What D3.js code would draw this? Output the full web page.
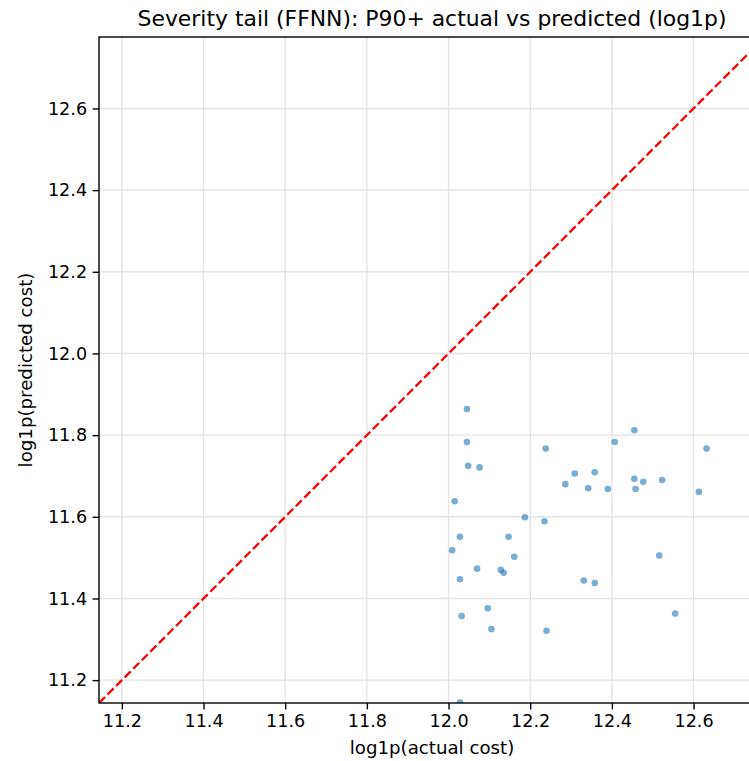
<!DOCTYPE html>
<html>
<head>
<meta charset="utf-8">
<script src="https://cdn.jsdelivr.net/npm/d3@7"></script>
<style>
  body { margin: 0; background: #fff; overflow: hidden; }
  svg { display: block; font-family: "DejaVu Sans", sans-serif; }
</style>
</head>
<body>
<svg id="chart"></svg>
<script>
// log1p(actual cost) for the P90+ claims
const actualLog = [
  12.045, 12.045, 12.048, 12.076, 12.015, 12.238, 12.455, 12.407, 12.632, 12.358,
  12.309, 12.286, 12.342, 12.390, 12.455, 12.477, 12.523, 12.458, 12.613, 12.187,
  12.235, 12.028, 12.147, 12.009, 12.161, 12.070, 12.128, 12.135, 12.028, 12.516,
  12.331, 12.358, 12.096, 12.032, 12.105, 12.240, 12.555, 12.028
]
// log1p(predicted cost) from the FFNN
const predictedLog = [
  11.864, 11.783, 11.725, 11.721, 11.638, 11.767, 11.812, 11.783, 11.767, 11.709,
  11.706, 11.680, 11.670, 11.668, 11.693, 11.686, 11.690, 11.668, 11.661, 11.599,
  11.589, 11.551, 11.551, 11.518, 11.502, 11.473, 11.470, 11.463, 11.447, 11.505,
  11.444, 11.438, 11.376, 11.357, 11.325, 11.321, 11.363, 11.145
]
const axisLimits = [11.144, 12.775]
const tickValues = [11.2, 11.4, 11.6, 11.8, 12.0, 12.2, 12.4, 12.6]

const svg = d3.select('#chart')
  .attr('width', 749)
  .attr('height', 761)

const margin = { top: 37, left: 99 }
const size = 666
const tickFont = '17.6px'

const x = d3.scaleLinear().domain(axisLimits).range([0, size])
const y = d3.scaleLinear().domain(axisLimits).range([size, 0])

const g = svg.append('g')
  .attr('transform', `translate(${margin.left},${margin.top})`)

g.append('clipPath')
  .attr('id', 'plot-clip')
  .append('rect')
    .attr('width', size)
    .attr('height', size)

// Grid
g.append('g')
  .selectAll('line')
  .data(tickValues)
  .enter()
  .append('line')
    .attr('x1', d => x(d)).attr('x2', d => x(d))
    .attr('y1', 0).attr('y2', size)
    .attr('stroke', '#e4e4e4')
    .attr('stroke-width', 1.4)
g.append('g')
  .selectAll('line')
  .data(tickValues)
  .enter()
  .append('line')
    .attr('y1', d => y(d)).attr('y2', d => y(d))
    .attr('x1', 0).attr('x2', size)
    .attr('stroke', '#e4e4e4')
    .attr('stroke-width', 1.4)

// Points
g.append('g')
  .attr('clip-path', 'url(#plot-clip)')
  .selectAll('circle')
  .data(actualLog.map((a, i) => [a, predictedLog[i]]))
  .enter()
  .append('circle')
    .attr('cx', d => x(d[0]))
    .attr('cy', d => y(d[1]))
    .attr('r', 3.3)
    .attr('fill', '#1f77b4')
    .attr('fill-opacity', 0.6)

// y = x reference line
g.append('line')
  .attr('clip-path', 'url(#plot-clip)')
  .attr('x1', x(axisLimits[0])).attr('y1', y(axisLimits[0]))
  .attr('x2', x(axisLimits[1])).attr('y2', y(axisLimits[1]))
  .attr('stroke', '#ff0000')
  .attr('stroke-width', 2.3)
  .attr('stroke-dasharray', '8.5,3.6')

// Axes
const xAxis = d3.axisBottom(x).tickValues(tickValues).tickFormat(d3.format('.1f')).tickSize(6.4).tickPadding(5.5)
const yAxis = d3.axisLeft(y).tickValues(tickValues).tickFormat(d3.format('.1f')).tickSize(6.4).tickPadding(5.5)

const gx = g.append('g')
  .attr('transform', `translate(0,${size})`)
  .call(xAxis)
const gy = g.append('g').call(yAxis)

;[gx, gy].forEach(a => {
  a.select('.domain').remove()
  a.selectAll('line').attr('stroke', '#000').attr('stroke-width', 1.4)
  a.selectAll('text')
    .attr('fill', '#000')
    .style('font-family', '"DejaVu Sans", sans-serif')
    .style('font-size', tickFont)
})

// Spines
g.append('rect')
  .attr('width', size)
  .attr('height', size)
  .attr('fill', 'none')
  .attr('stroke', '#000')
  .attr('stroke-width', 1.4)

// Labels
svg.append('text')
  .attr('x', margin.left + size / 2)
  .attr('y', 26)
  .attr('text-anchor', 'middle')
  .style('font-size', '21.9px')
  .text('Severity tail (FFNN): P90+ actual vs predicted (log1p)')

svg.append('text')
  .attr('x', margin.left + size / 2)
  .attr('y', 754)
  .attr('text-anchor', 'middle')
  .style('font-size', '18.2px')
  .text('log1p(actual cost)')

svg.append('text')
  .attr('transform', `translate(32,${margin.top + size / 2}) rotate(-90)`)
  .attr('text-anchor', 'middle')
  .style('font-size', '18.2px')
  .text('log1p(predicted cost)')
</script>
</body>
</html>
